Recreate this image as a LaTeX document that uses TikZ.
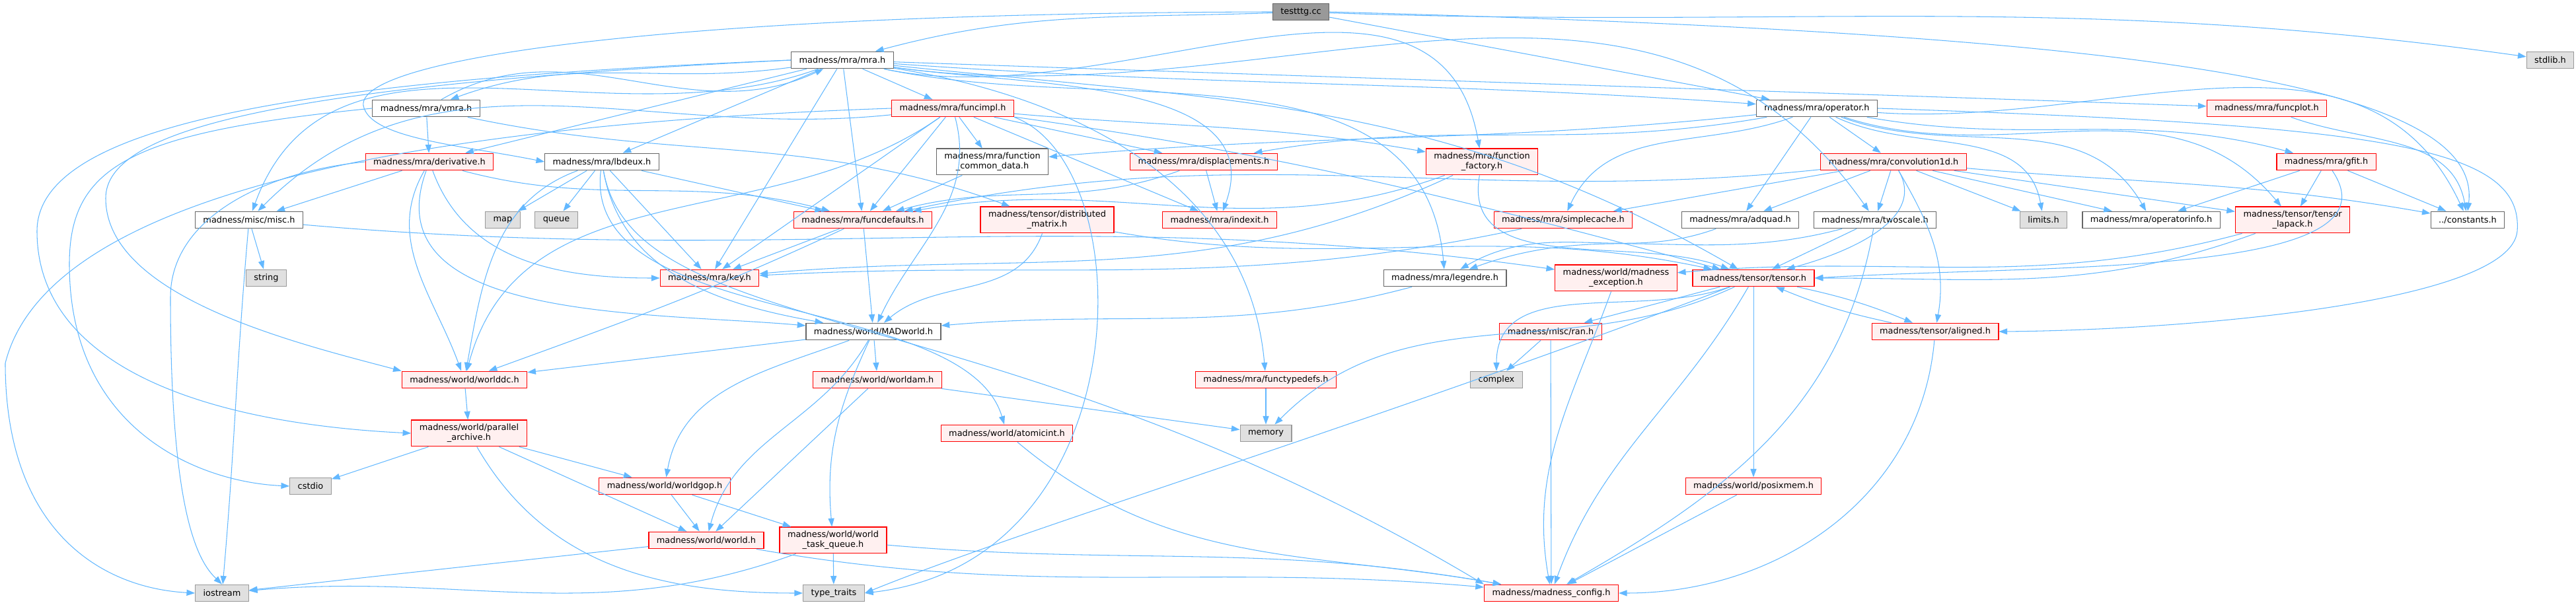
\documentclass[tikz,border=0pt]{standalone}
\usepackage{fontspec}
\setmainfont{DejaVu Sans}
\usepackage{xcolor}
\usepackage{tikz}
\usetikzlibrary{arrows.meta}

\definecolor{edgeblue}{HTML}{63B8FF}
\definecolor{redfill}{HTML}{FFF0F0}
\definecolor{sysfill}{HTML}{E0E0E0}
\definecolor{sysdraw}{HTML}{999999}
\definecolor{boxdraw}{HTML}{666666}

\begin{document}
\begin{tikzpicture}[
    hdr/.style={draw=boxdraw, fill=white, line width=0.35pt, inner xsep=3.4pt, inner ysep=1.7pt,
      minimum height=0.255cm, align=center, font=\fontsize{3.67}{4.26}\selectfont},
    trunc/.style={hdr, draw=red, fill=redfill},
    sys/.style={hdr, draw=sysdraw, fill=sysfill},
    root/.style={hdr, draw=boxdraw, fill=sysdraw},
    inc/.style={draw=edgeblue, line width=0.3pt, -{Triangle[length=3.6pt,width=2.6pt]}}]
          \useasboundingbox (0,0) rectangle (38.99,-9.16);

          \node[root] (0) at (19.69,-0.18) {testttg.cc};
          \node[hdr] (1) at (12.75,-0.91) {madness/mra/mra.h};
          \node[sys] (6) at (38.60,-0.91) {stdlib.h};
          \node[hdr] (2) at (6.45,-1.64) {madness/mra/vmra.h};
          \node[trunc] (3) at (14.42,-1.64) {madness/mra/funcimpl.h};
          \node[hdr] (4) at (27.50,-1.64) {madness/mra/operator.h};
          \node[trunc] (5) at (34.31,-1.64) {madness/mra/funcplot.h};
          \node[trunc] (7) at (6.50,-2.45) {madness/mra/derivative.h};
          \node[hdr] (8) at (9.11,-2.45) {madness/mra/lbdeux.h};
          \node[hdr] (9) at (15.02,-2.45) {madness/mra/function\\\_common\_data.h};
          \node[trunc] (11) at (18.22,-2.45) {madness/mra/displacements.h};
          \node[trunc] (10) at (22.43,-2.45) {madness/mra/function\\\_factory.h};
          \node[trunc] (12) at (28.66,-2.45) {madness/mra/convolution1d.h};
          \node[trunc] (13) at (35.21,-2.45) {madness/mra/gfit.h};
          \node[hdr] (14) at (3.77,-3.33) {madness/misc/misc.h};
          \node[sys] (15) at (7.61,-3.33) {map};
          \node[sys] (16) at (8.42,-3.33) {queue};
          \node[trunc] (17) at (13.06,-3.33) {madness/mra/funcdefaults.h};
          \node[trunc] (18) at (15.85,-3.33) {madness/tensor/distributed\\\_matrix.h};
          \node[trunc] (19) at (18.46,-3.33) {madness/mra/indexit.h};
          \node[trunc] (20) at (23.66,-3.33) {madness/mra/simplecache.h};
          \node[hdr] (21) at (26.34,-3.33) {madness/mra/adquad.h};
          \node[hdr] (22) at (28.38,-3.33) {madness/mra/twoscale.h};
          \node[sys] (23) at (30.93,-3.33) {limits.h};
          \node[hdr] (24) at (32.56,-3.33) {madness/mra/operatorinfo.h};
          \node[trunc] (25) at (34.70,-3.33) {madness/tensor/tensor\\\_lapack.h};
          \node[hdr] (26) at (37.35,-3.33) {../constants.h};
          \node[sys] (27) at (4.03,-4.21) {string};
          \node[trunc] (28) at (10.74,-4.21) {madness/mra/key.h};
          \node[hdr] (29) at (21.87,-4.21) {madness/mra/legendre.h};
          \node[trunc] (30) at (24.46,-4.21) {madness/world/madness\\\_exception.h};
          \node[trunc] (31) at (26.54,-4.21) {madness/tensor/tensor.h};
          \node[hdr] (32) at (13.22,-5.02) {madness/world/MADworld.h};
          \node[trunc] (33) at (23.47,-5.02) {madness/misc/ran.h};
          \node[trunc] (34) at (29.29,-5.02) {madness/tensor/aligned.h};
          \node[trunc] (35) at (7.03,-5.75) {madness/world/worlddc.h};
          \node[trunc] (36) at (13.28,-5.75) {madness/world/worldam.h};
          \node[trunc] (37) at (19.16,-5.75) {madness/mra/functypedefs.h};
          \node[sys] (38) at (22.65,-5.75) {complex};
          \node[trunc] (39) at (7.10,-6.56) {madness/world/parallel\\\_archive.h};
          \node[trunc] (40) at (15.24,-6.56) {madness/world/atomicint.h};
          \node[sys] (41) at (19.16,-6.56) {memory};
          \node[sys] (42) at (4.70,-7.36) {cstdio};
          \node[trunc] (43) at (10.06,-7.36) {madness/world/worldgop.h};
          \node[trunc] (44) at (26.54,-7.36) {madness/world/posixmem.h};
          \node[trunc] (45) at (10.69,-8.18) {madness/world/world.h};
          \node[trunc] (46) at (12.61,-8.18) {madness/world/world\\\_task\_queue.h};
          \node[sys] (47) at (3.36,-8.98) {iostream};
          \node[sys] (48) at (12.62,-8.98) {type\_traits};
          \node[trunc] (49) at (23.48,-8.98) {madness/madness\_config.h};

          \draw[inc] (0) to[out=182,in=15] (1);
          \draw[inc] (0) -- (4);
          \draw[inc] (0) to[out=-2,in=172] (6);
          \draw[inc] (0.east) .. controls (32.0,-0.5) and (37.6,-1.2) .. (26.north);
          \draw[inc] (0.west) .. controls (10.0,-0.2) and (5.4,-0.9) .. (5.5,-1.6)
                     .. controls (5.6,-2.1) and (7.0,-2.2) .. (8.west);

          \draw[inc] (1) to[out=188,in=20] (2);
          \draw[inc] (1) -- (3);
          \draw[inc] (1) to[out=-4,in=176] (4);
          \draw[inc] (1) to[out=-2,in=178] (5);
          \draw[inc] (1) -- (7);
          \draw[inc] (1) -- (8);
          \draw[inc] (1) to[out=-12,in=100] (10);
          \draw[inc] (1) to[out=200,in=70] (14);
          \draw[inc] (1) -- (17);
          \draw[inc] (1) to[out=-8,in=70] (19);
          \draw[inc] (1) -- (28);
          \draw[inc] (1) to[out=-12,in=95] (29);
          \draw[inc] (1) to[out=-8,in=125] (22);
          \draw[inc] (1) to[out=-6,in=150] (31);
          \draw[inc] (1) to[out=-9,in=95] (37);
          \draw[inc] (1.west) .. controls (4.0,-1.3) and (1.6,-2.0) .. (1.6,-3.0)
                     .. controls (1.6,-4.5) and (4.5,-5.2) .. (35.north west);
          \draw[inc] (1.west) .. controls (5.0,-1.2) and (0.56,-1.8) .. (0.56,-3.5)
                     .. controls (0.56,-5.5) and (3.0,-6.4) .. (39.west);

          \draw[inc] (2) to[out=30,in=205] (1);
          \draw[inc] (2) -- (7);
          \draw[inc] (2) to[out=-12,in=160] (18);
          \draw[inc] (2.west) .. controls (2.0,-2.0) and (1.05,-2.5) .. (1.05,-4.0)
                     .. controls (1.05,-6.5) and (3.0,-7.3) .. (42.west);

          \draw[inc] (3) -- (9);
          \draw[inc] (3) -- (11);
          \draw[inc] (3) -- (19);
          \draw[inc] (3) -- (17);
          \draw[inc] (3) -- (28);
          \draw[inc] (3) to[out=-75,in=65] (32);
          \draw[inc] (3) to[out=-5,in=170] (10);
          \draw[inc] (3) to[out=186,in=45] (14);
          \draw[inc] (3) to[out=-8,in=165] (31);
          \draw[inc] (3) to[out=215,in=75] (35);
          \draw[inc] (3.west) .. controls (6.0,-1.9) and (0.7,-3.0) .. (0.08,-5.5)
                     .. controls (0.08,-8.0) and (1.5,-8.9) .. (47.west);
          \draw[inc] (3.south east) .. controls (17.3,-2.5) and (17.3,-8.5) .. (48.east);

          \draw[inc] (4) -- (12);
          \draw[inc] (4) to[out=200,in=65] (20);
          \draw[inc] (4) -- (21);
          \draw[inc] (4) to[out=186,in=5] (9);
          \draw[inc] (4) to[out=190,in=10] (11);
          \draw[inc] (4) to[out=-10,in=165] (13);
          \draw[inc] (4) to[out=-20,in=120] (24);
          \draw[inc] (4) to[out=-25,in=100] (23);
          \draw[inc] (4) to[out=-18,in=130] (25);
          \draw[inc] (4) to[out=-4,in=115] (26);
          \draw[inc] (4.east) .. controls (36.0,-1.9) and (38.2,-2.2) .. (38.1,-3.5)
                     .. controls (38.0,-4.6) and (33.0,-5.0) .. (34.east);

          \draw[inc] (5) to[out=-20,in=100] (26);

          \draw[inc] (7.west) .. controls (4.0,-2.6) and (2.58,-3.3) .. (2.58,-4.5)
                     .. controls (2.58,-7.8) and (3.0,-8.5) .. (47.north);
          \draw[inc] (7) -- (14);
          \draw[inc] (7) to[out=-120,in=110] (35);
          \draw[inc] (7) to[out=-110,in=175] (32);
          \draw[inc] (7) to[out=-70,in=180] (28);
          \draw[inc] (7) to[out=-15,in=165] (17);

          \draw[inc] (8) to[out=200,in=80] (35);
          \draw[inc] (8) -- (15);
          \draw[inc] (8) -- (16);
          \draw[inc] (8) -- (28);
          \draw[inc] (8) -- (17);
          \draw[inc] (8) to[out=-80,in=170] (32);
          \draw[inc] (8) .. controls (8.8,-5.0) and (14.6,-4.4) .. (40);
          \draw[inc] (8) .. controls (9.6,-5.2) and (15.0,-4.4) .. (49.north west);

          \draw[inc] (9) -- (17);
          \draw[inc] (10) to[out=200,in=10] (17);
          \draw[inc] (10) to[out=205,in=5] (28);
          \draw[inc] (10) to[out=-100,in=160] (31);
          \draw[inc] (11) -- (19);
          \draw[inc] (11) to[out=200,in=15] (17);

          \draw[inc] (12) -- (20);
          \draw[inc] (12) -- (21);
          \draw[inc] (12) -- (22);
          \draw[inc] (12) -- (23);
          \draw[inc] (12) -- (24);
          \draw[inc] (12) -- (25);
          \draw[inc] (12) to[out=-5,in=170] (26);
          \draw[inc] (12) to[out=-60,in=15] (31);
          \draw[inc] (12) to[out=-60,in=80] (34);
          \draw[inc] (12) to[out=186,in=12] (17);

          \draw[inc] (13) -- (24);
          \draw[inc] (13) -- (25);
          \draw[inc] (13) -- (26);
          \draw[inc] (13) .. controls (36.4,-4.2) and (31.0,-4.0) .. (31.east);

          \draw[inc] (14) -- (27);
          \draw[inc] (14) to[out=-95,in=85] (47);
          \draw[inc] (14) to[out=-5,in=172] (30);

          \draw[inc] (17) -- (28);
          \draw[inc] (17) to[out=205,in=20] (35);
          \draw[inc] (17) -- (32);
          \draw[inc] (18) to[out=-110,in=40] (32);
          \draw[inc] (18) to[out=-10,in=168] (31);
          \draw[inc] (20) to[out=192,in=3] (28);
          \draw[inc] (21) to[out=200,in=30] (29);
          \draw[inc] (22) -- (31);
          \draw[inc] (22) to[out=195,in=20] (29);
          \draw[inc] (22) to[out=-100,in=30] (49);
          \draw[inc] (25) to[out=200,in=0] (31);
          \draw[inc] (25) to[out=195,in=5] (30);
          \draw[inc] (29) to[out=195,in=5] (32);
          \draw[inc] (30) to[out=-110,in=100] (49);

          \draw[inc] (31) -- (33);
          \draw[inc] (31) -- (44);
          \draw[inc] (31) to[bend left=5] (34);
          \draw[inc] (34) to[bend left=5] (31);
          \draw[inc] (31) to[out=200,in=90] (38);
          \draw[inc] (31) to[out=-120,in=70] (49);
          \draw[inc] (31) to[out=205,in=45] (41);
          \draw[inc] (31) .. controls (20.5,-6.5) and (15.5,-8.0) .. (48.east);
          \draw[inc] (34) to[out=-95,in=0] (49);

          \draw[inc] (32) -- (35);
          \draw[inc] (32) -- (36);
          \draw[inc] (32) to[out=200,in=80] (43);
          \draw[inc] (32) to[out=-120,in=75] (45);
          \draw[inc] (32) to[out=-115,in=95] (46);
          \draw[inc] (33) -- (38);
          \draw[inc] (33) -- (49);
          \draw[inc] (35) -- (39);
          \draw[inc] (36) -- (45);
          \draw[inc] (36) -- (41);
          \draw[inc] (37) -- (41);
          \draw[inc] (39) -- (42);
          \draw[inc] (39) -- (43);
          \draw[inc] (39) -- (45);
          \draw[inc] (39) to[out=-60,in=180] (48);
          \draw[inc] (40) to[out=-40,in=170] (49);
          \draw[inc] (43) -- (45);
          \draw[inc] (43) -- (46);
          \draw[inc] (44) -- (49);
          \draw[inc] (45) -- (47);
          \draw[inc] (45) to[out=-10,in=175] (49);
          \draw[inc] (46) -- (48);
          \draw[inc] (46) to[out=-5,in=170] (49);
          \draw[inc] (46) to[out=200,in=5] (47);
        \end{tikzpicture}
\end{document}
